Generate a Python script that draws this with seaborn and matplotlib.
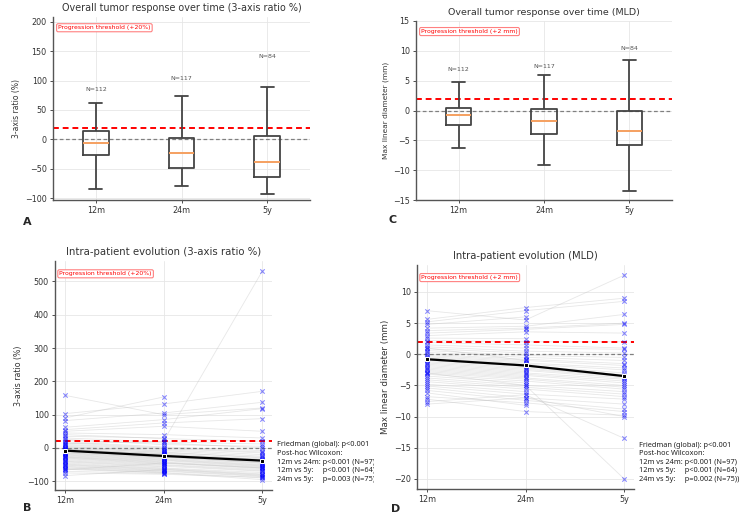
import numpy as np
import pandas as pd
import matplotlib
matplotlib.use("Agg")
import matplotlib.pyplot as plt
import seaborn as sns
from matplotlib.transforms import Bbox, TransformedBbox

# ---- data ----
times = ["12m", "24m", "5y"]

# panel A: five-number summaries (whisker low, Q1, median, Q3, whisker high), 3-axis ratio %
ratio_box_12m = [-83.5, -27, -6.8, 13.6, 62.5]
ratio_box_24m = [-79, -48.7, -23, 2.4, 73]
ratio_box_5y = [-93, -63.5, -38, 6.3, 88.6]
ratio_n = ["N=112", "N=117", "N=84"]
ratio_n_y = [84.7, 103.4, 141.4]

# panel C: five-number summaries, MLD (mm)
mld_box_12m = [-6.3, -2.4, -0.8, 0.5, 4.7]
mld_box_24m = [-9.2, -4.0, -1.7, 0.2, 6.0]
mld_box_5y = [-13.5, -5.7, -3.5, 0.0, 8.5]
mld_n = ["N=112", "N=117", "N=84"]
mld_n_y = [6.9, 7.4, 10.4]

# panel B: per-patient 3-axis ratio % (None = missing)
ratio_12m = [158, 103, 90, 82, 62, 55, 50, 45, 40, 35, 30, 26, 22, 18, 15, 13, 11, 8, 5, 3,
             1, -1, -3, -4, -5, -6, -7, -7, -8, -9, -10, -12, -14, -15, -17, -19, -21, -23, -25, -27,
             -28, -30, -32, -35, -38, -40, -42, -45, -48, -50, -52, -55, -57, -60, -62, -64, -66, -70, -75, -83]
ratio_24m = [100, 132, 153, 105, 85, 75, 65, 40, 28, 30, 18, 10, 15, 3, 0, 20, -2, -5, -10, -8,
             -14, -12, -18, -20, -16, -22, -23, -19, -24, -25, -26, -27, -29, -30, -32, -34, -36, -38, -40, -42,
             -44, -46, -48, -50, -52, -55, -57, -60, -62, -64, -66, -68, -70, -72, -74, -75, -45, -77, -79, -65]
ratio_5y = [120, 170, None, 137, 118, 88, 50, 30, 20, None, 12, 5, 0, -8, -12, 530, -15, -20, None, -25,
            -28, -30, None, -33, -35, -36, -38, -40, None, -42, -44, -45, -47, None, -50, -52, -54, -56, None, -58,
            -60, -62, None, -65, -68, -70, None, -74, -78, -80, None, -84, -86, None, -90, -95, -60, None, -88, -82]
ratio_median = [-8, -24, -38]

# panel D: per-patient MLD change (mm)
mld_12m = [7.0, 5.6, 5.2, 4.8, 4.2, 3.8, 3.4, 3.0, 2.6, 2.2, 1.9, 1.5, 1.2, 0.9, 0.6, 0.3, 0.0, -0.2, -0.4, -0.6,
           -0.7, -0.8, -0.9, -1.0, -1.2, -1.4, -1.6, -1.8, -2.0, -2.2, -2.4, -2.6, -2.8, -3.0, -3.2, -3.5, -3.8, -4.1, -4.4, -4.8,
           -5.1, -5.4, -5.8, -6.2, -6.8, -7.2, -7.6, -8.0, -3.0, 1.0]
mld_24m = [5.5, 7.5, 7.0, 6.0, 4.5, 4.2, 4.0, 3.6, 2.5, 2.0, 1.5, 1.0, 0.5, 0.2, -0.2, -0.5, -0.8, -1.0, -1.2, -1.4,
           -1.6, -1.8, -1.9, -2.0, -2.2, -2.4, -2.6, -2.8, -3.0, -3.2, -3.4, -3.6, -3.8, -4.0, -4.3, -4.6, -5.0, -5.3, -5.6, -6.0,
           -6.4, -7.0, -7.4, -8.2, -7.8, -9.2, -6.5, -7.0, -5.0, -1.0]
mld_5y = [12.7, 9.0, 8.5, None, 6.4, 5.0, 4.8, 3.4, None, 2.0, 1.0, 0.8, 0.2, None, -0.5, -1.0, -1.5, -1.8, None, -2.2,
          -2.5, -3.0, -3.3, None, -3.5, -3.6, -3.8, None, -4.0, -4.3, -4.6, None, -5.0, -5.3, -5.6, None, -6.0, -6.4, -6.8, None,
          -7.2, -8.0, -8.8, None, -9.2, -9.8, -13.5, -10.0, -20.0, None]
mld_median = [-0.8, -1.8, -3.5]

stats_b = ("Friedman (global): p<0.001\nPost-hoc Wilcoxon:\n12m vs 24m: p<0.001 (N=97)\n"
           "12m vs 5y:     p<0.001 (N=64)\n24m vs 5y:     p=0.003 (N=75))")
stats_d = ("Friedman (global): p<0.001\nPost-hoc Wilcoxon:\n12m vs 24m: p<0.001 (N=97)\n"
           "12m vs 5y:     p<0.001 (N=64)\n24m vs 5y:     p=0.002 (N=75))")

sns.set_style("whitegrid")
plt.rcParams["font.family"] = ["DejaVu Sans"]
TXT = "#333333"
W, H = 750, 526
fig = plt.figure(figsize=(7.5, 5.26), dpi=100)


def px_axes(left, top, right, bottom):
    return fig.add_axes([left / W, 1 - bottom / H, (right - left) / W, (bottom - top) / H])


def style(ax):
    sns.despine(ax=ax)
    for s in ("left", "bottom"):
        ax.spines[s].set_color("#555555")
        ax.spines[s].set_linewidth(1.0)
    ax.grid(True, color="#e6e6e6", lw=0.6)
    ax.tick_params(labelsize=5.8, colors=TXT, length=2.5, width=0.6, pad=2, left=True, bottom=True)
    ax.set_xlabel("")


def threshold(ax, y, label):
    ax.axhline(0, color="gray", ls=(0, (3, 2)), lw=0.9, zorder=1)
    ax.axhline(y, color="red", ls=(0, (3, 2)), lw=1.4, zorder=1)
    ax.text(0.02, 0.955, label, transform=ax.transAxes, color="red", fontsize=4.4,
            va="top", ha="left",
            bbox=dict(boxstyle="round,pad=0.25", fc="white", ec="#ff8080", lw=0.8))


def box_panel(ax, boxes, n_txt, n_y, ylabel, ylim, thr, thr_label, title, tsize, lsize):
    df = pd.DataFrame({"time": np.repeat(times, 5), "value": np.concatenate(boxes)})
    sns.boxplot(data=df, x="time", y="value", ax=ax, width=0.3, whis=(0, 100), fill=False,
                color="#444444", linewidth=1.3,
                medianprops=dict(color="#f5a060", lw=1.4), capprops=dict(lw=1.3))
    threshold(ax, thr, thr_label)
    for i, (t, y) in enumerate(zip(n_txt, n_y)):
        ax.text(i, y, t, ha="center", va="center", fontsize=4.5, color="#555555")
    ax.set_ylim(*ylim)
    ax.set_xlim(-0.5, 2.5)
    ax.set_ylabel(ylabel, fontsize=lsize, color=TXT, labelpad=3)
    ax.set_title(title, fontsize=tsize, color=TXT, pad=4)
    style(ax)


def spaghetti(ax, a, b, c, med, ylabel, thr, thr_label, title, stats, tsize, lsize):
    long = pd.DataFrame({"patient": np.tile(np.arange(len(a)), 3),
                         "pos": np.repeat([0, 1, 2], len(a)),
                         "value": pd.to_numeric(pd.Series(list(a) + list(b) + list(c)))}).dropna()
    sns.lineplot(data=long, x="pos", y="value", units="patient", estimator=None, ax=ax,
                 color="#bbbbbb", alpha=0.35, lw=0.6, zorder=1)
    sns.scatterplot(data=long, x="pos", y="value", ax=ax, marker="x", color="blue",
                    alpha=0.45, s=10, linewidth=0.8, zorder=2)
    threshold(ax, thr, thr_label)
    sns.lineplot(x=[0, 1, 2], y=med, ax=ax, color="black", marker="s", markersize=3.5,
                 lw=1.6, zorder=4)
    ax.set_xticks([0, 1, 2])
    ax.set_xticklabels(times)
    ax.set_ylabel(ylabel, fontsize=lsize, color=TXT, labelpad=3)
    ax.set_title(title, fontsize=tsize, color=TXT, pad=4)
    style(ax)
    t = ax.text(1.025, 0.212, stats, transform=ax.transAxes, fontsize=5.3, color="#222222",
                ha="left", va="top", linespacing=1.33, family=["Noto Sans", "DejaVu Sans"])
    return t


axA = px_axes(53, 17, 310, 200)
box_panel(axA, [ratio_box_12m, ratio_box_24m, ratio_box_5y], ratio_n, ratio_n_y,
          "3-axis ratio (%)", (-103, 208), 20, "Progression threshold (+20%)",
          "Overall tumor response over time (3-axis ratio %)", 6.9, 5.5)

axC = px_axes(416, 21, 672, 200)
box_panel(axC, [mld_box_12m, mld_box_24m, mld_box_5y], mld_n, mld_n_y,
          "Max linear diameter (mm)", (-15, 15), 2, "Progression threshold (+2 mm)",
          "Overall tumor response over time (MLD)", 6.8, 5.3)

axB = px_axes(55, 261, 272, 490)
tb = spaghetti(axB, ratio_12m, ratio_24m, ratio_5y, ratio_median, "3-axis ratio (%)", 20,
               "Progression threshold (+20%)", "Intra-patient evolution (3-axis ratio %)",
               stats_b, 7.3, 5.7)
tb.set_clip_box(TransformedBbox(Bbox([[0, 0], [374 / W, 1]]), fig.transFigure))
tb.set_clip_on(True)

axD = px_axes(417, 265, 634, 489)
spaghetti(axD, mld_12m, mld_24m, mld_5y, mld_median, "Max linear diameter (mm)", 2,
          "Progression threshold (+2 mm)", "Intra-patient evolution (MLD)", stats_d, 7.2, 6.3)

for lab, x, y in [("A", 27, 222), ("C", 393, 220), ("B", 27, 508), ("D", 396, 509)]:
    fig.text(x / W, 1 - y / H, lab, fontsize=8, fontweight="bold", ha="center", va="center")

fig.savefig("out.png", dpi=100)
